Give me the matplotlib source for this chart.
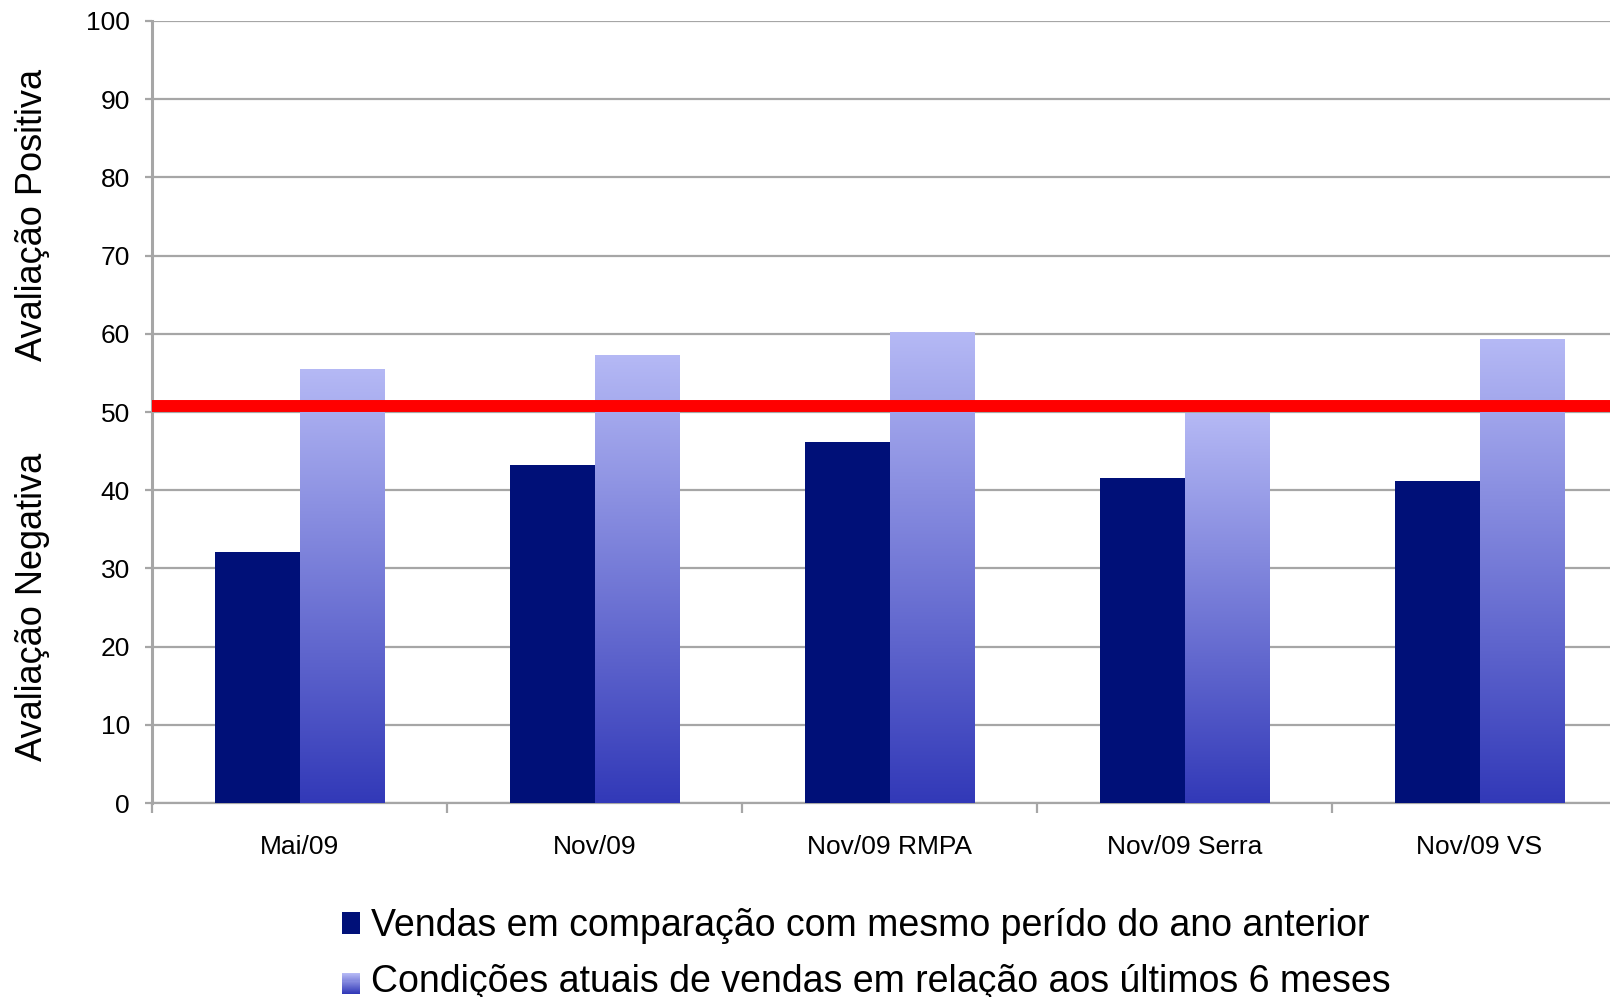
import numpy as np
import matplotlib
matplotlib.use("Agg")
import matplotlib.pyplot as plt
from matplotlib.colors import LinearSegmentedColormap
from matplotlib.patches import Rectangle
from matplotlib.legend_handler import HandlerBase

plt.rcParams['font.family'] = ['Liberation Sans', 'DejaVu Sans']

# data
categories = ['Mai/09', 'Nov/09', 'Nov/09 RMPA', 'Nov/09 Serra', 'Nov/09 VS']
vendas = [32.1, 43.2, 46.1, 41.6, 41.2]
condicoes = [55.5, 57.3, 60.2, 49.9, 59.3]
limite = 50.8
yticks = [0, 10, 20, 30, 40, 50, 60, 70, 80, 90, 100]
label_vendas = 'Vendas em comparação com mesmo perído do ano anterior'
label_cond = 'Condições atuais de vendas em relação aos últimos 6 meses'

dark = '#001078'
grad = LinearSegmentedColormap.from_list('g', ['#3239B8', '#B5B9F5'])
grey = '#A6A6A6'

fig = plt.figure(figsize=(16.10, 9.97), dpi=100)
ax = fig.add_axes([152 / 1610, 1 - 803 / 997, 1 - 152 / 1610, (803 - 21) / 997])

x = np.arange(len(categories))
w = 1 / 3.5

ax.bar(x - w / 2, vendas, w, color=dark, zorder=3)
light = ax.bar(x + w / 2, condicoes, w, color='none', zorder=3)

# vertical gradient on the light bars
g = np.linspace(0, 1, 256).reshape(-1, 1)
for b in light:
    x0, y0 = b.get_x(), b.get_y()
    im = ax.imshow(g, cmap=grad, origin='lower', aspect='auto', zorder=3,
                   extent=[x0, x0 + b.get_width(), y0, y0 + b.get_height()])
    im.set_clip_path(b)

ax.axhline(limite, color='#FF0000', lw=8.6, zorder=5)

ax.set_yticks(yticks)
ax.set_yticklabels([str(t) for t in yticks], fontsize=19)
ax.yaxis.grid(True, color=grey, lw=1.6, zorder=0)
ax.tick_params(axis='y', length=5, width=1.6, color=grey, pad=11)

ax.set_xticks(x)
ax.set_xticklabels(categories, fontsize=19)
ax.set_xticks(np.arange(-0.5, len(categories) - 1, 1), minor=True)
ax.tick_params(axis='x', which='major', length=0, pad=23)
ax.tick_params(axis='x', which='minor', length=7, width=1.6, color=grey)

# last category is cut by the right edge, as in the original
ax.set_xlim(-0.5, -0.5 + 1458 / 295)
ax.set_ylim(0, 100)

for s in ['top', 'right']:
    ax.spines[s].set_visible(False)
ax.spines['left'].set_color(grey)
ax.spines['left'].set_linewidth(2.2)
ax.spines['bottom'].set_color(grey)
ax.spines['bottom'].set_linewidth(1.6)

fig.text(33 / 1610, 1 - 215 / 997, 'Avaliação Positiva', rotation=90,
         fontsize=26, ha='center', va='center')
fig.text(33 / 1610, 1 - 607 / 997, 'Avaliação Negativa', rotation=90,
         fontsize=26, ha='center', va='center')


class GradHandler(HandlerBase):
    def create_artists(self, legend, orig, xd, yd, width, height, fontsize, trans):
        n = 20
        arts = []
        for i in range(n):
            r = Rectangle((xd, yd + height * i / n), width, height / n + 0.3,
                          facecolor=grad(i / (n - 1)), edgecolor='none', transform=trans)
            arts.append(r)
        return arts


h1 = Rectangle((0, 0), 1, 1, facecolor=dark)
h2 = Rectangle((0, 0), 1, 1, facecolor='#8088e0')
fig.legend([h1, h2], [label_vendas, label_cond], handler_map={h2: GradHandler()},
           loc='center left', bbox_to_anchor=(342 / 1610, 1 - 954 / 997),
           frameon=False, fontsize=27, handlelength=0.48, handleheight=0.5,
           handletextpad=0.3, labelspacing=0.52, borderpad=0, borderaxespad=0)

fig.savefig('out.png', dpi=100)
